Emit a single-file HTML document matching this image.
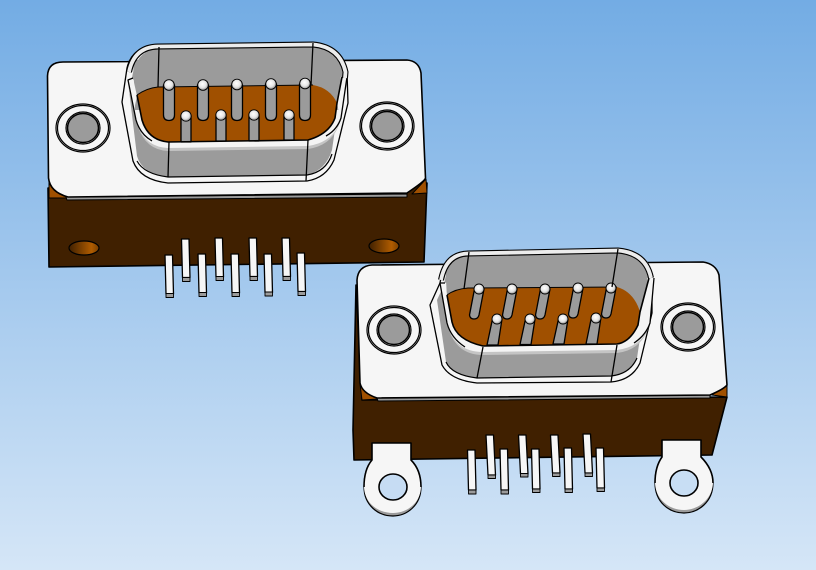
<!DOCTYPE html>
<html><head><meta charset="utf-8"><title>D-sub connectors</title>
<style>html,body{margin:0;padding:0;background:#fff}svg{display:block}</style></head>
<body>
<svg xmlns="http://www.w3.org/2000/svg" width="816" height="570" viewBox="0 0 816 570">
<defs>
<linearGradient id="bg" x1="0" y1="0" x2="0" y2="1"><stop offset="0" stop-color="#73ace4"/><stop offset="1" stop-color="#d5e6f7"/></linearGradient>
<linearGradient id="h" x1="0" y1="0" x2="1" y2="0"><stop offset="0" stop-color="#402000"/><stop offset=".75" stop-color="#b05c00"/><stop offset="1" stop-color="#7a4000"/></linearGradient>
<radialGradient id="b" cx=".45" cy=".4" r=".6"><stop offset="0" stop-color="#fff"/><stop offset=".6" stop-color="#e4e4e4"/><stop offset="1" stop-color="#8f8f8f"/></radialGradient>
</defs>
<rect width="816" height="570" fill="url(#bg)"/>

<!-- CONNECTOR 1 -->
<g stroke="#000" stroke-width="1.600" stroke-linejoin="round">
<path d="M48 188L427 183L424 262L49 267Z" fill="#402000"/>
<path d="M49 176L49 198L67 198Z" fill="#a05000" stroke-width="1"/>
<path d="M412 194L426 179L427 193Z" fill="#a05000" stroke-width="1"/>
<path d="M66 197L407 194L407 197L67 200Z" fill="#9b9b9b" stroke-width="1"/>
<path d="M47.500 76Q48 62 63 62L407 60Q419 61 421 73L425.500 178Q425 181 407 193L68 197Q50 192 48.500 178Z" fill="#f6f6f6"/>
<ellipse cx="84" cy="248" rx="15" ry="7" fill="url(#h)" stroke-width="1.200"/>
<ellipse cx="384" cy="246" rx="15" ry="7" fill="url(#h)" stroke-width="1.200"/>
</g>
<g fill="none" stroke="#000" stroke-width="1.200">
<ellipse cx="83" cy="128" rx="27" ry="24" fill="#f6f6f6"/><ellipse cx="83" cy="128" rx="25.500" ry="22.500"/>
<ellipse cx="83" cy="128" rx="17" ry="16"/><ellipse cx="83" cy="128" rx="15.500" ry="14.500" fill="#9b9b9b" stroke-width="1.500"/>
<ellipse cx="387" cy="126" rx="27" ry="24" fill="#f6f6f6"/><ellipse cx="387" cy="126" rx="25.500" ry="22.500"/>
<ellipse cx="387" cy="126" rx="17" ry="16"/><ellipse cx="387" cy="126" rx="15.500" ry="14.500" fill="#9b9b9b" stroke-width="1.500"/>
</g>
<g stroke="#000" stroke-width="1.300" stroke-linejoin="round">
<path d="M127 68Q132 46 158 45L313 43Q342 46 347 72L348 103L334 160Q326 178 307 181L168 183Q140 180 133 161L122 102Z" fill="#f6f6f6"/>
<path d="M132 78Q136 50 158 49L313 47Q338 50 343 74L332 150Q326 170 307 175L168 177Q142 174 137 156L128 82Z" fill="#9b9b9b" stroke="none"/>
<path d="M137 161Q144 174 168 177L307 175Q326 172 332 154" fill="none" stroke="#000" stroke-width="1.200"/>
<!-- rim fill -->
<path d="M128 80L136 120Q143 150 168 151L308 149Q335 145 341 118L347 77Z" fill="#c4c4c4" stroke="none"/>
<path d="M128 80L136 120Q143 147 168 148L308 146Q335 142 341 118L347 77Z" fill="#f4f4f4" stroke="none"/>
<path d="M133 60L340 60L342 110L135 110Z" fill="#9b9b9b" stroke="none"/>
<path d="M128 78L133 78L137 96L134 110L129 90Z" fill="#f4f4f4" stroke="none"/>
<path d="M347 77L342 77L337 103L340 118L344 100Z" fill="#f4f4f4" stroke="none"/>
<path d="M137 95Q147 88 158 87L313 85Q330 88 337 103L335 118Q329 134 308 140L168 142Q148 140 142 120Z" fill="#a05000" stroke="none"/>
<path d="M137 95Q147 88 158 87L313 85" fill="none" stroke-width="1"/>
<g fill="#9b9b9b">
<path d="M163.500 85h11v30q0 5.500-5.500 5.500t-5.500-5.500z"/><path d="M197.500 85h11v30q0 5.500-5.500 5.500t-5.500-5.500z"/><path d="M231.500 85h11v30q0 5.500-5.500 5.500t-5.500-5.500z"/><path d="M265.500 84h11v31q0 5.500-5.500 5.500t-5.500-5.500z"/><path d="M299.500 84h11v31q0 5.500-5.500 5.500t-5.500-5.500z"/>
<path d="M181 116h10v26h-10z"/><path d="M216 116h10v25h-10z"/><path d="M249 116h10v25h-10z"/><path d="M284 116h10v24h-10z"/>
</g>
<g fill="url(#b)" stroke-width=".9">
<circle cx="169" cy="85" r="5.300"/><circle cx="203" cy="85" r="5.300"/><circle cx="237" cy="84.500" r="5.300"/><circle cx="271" cy="84" r="5.300"/><circle cx="305" cy="83.500" r="5.300"/>
<circle cx="186" cy="116" r="5.200"/><circle cx="221" cy="115" r="5.200"/><circle cx="254" cy="115" r="5.200"/><circle cx="289" cy="115" r="5.200"/>
</g>
<path d="M137 95L142 120Q148 140 168 142L308 140Q329 134 335 118L337 103L342 77" fill="none" stroke-width="1.600"/>
<path d="M133 78L128 80L136 120Q140 134 152 141M347 77L341 118Q337 130 326 136" fill="none"/>
<path d="M129 72Q134 47 158 46.500L313 44.500Q340 47 345.500 72L345 78" fill="none" stroke="#000" stroke-width="6"/>
<path d="M129 72Q134 47 158 46.500L313 44.500Q340 47 345.500 72L345 78" fill="none" stroke="#ececec" stroke-width="3.800"/>
<path d="M159 47L158 87M169 142L168 177M313 43L311 85M308 140L306 181" fill="none"/>
<g fill="#f6f6f6">
<path d="M181.500 239h7.500l1 38.500h-7.500z"/><path d="M215 238h7.500l1 39h-7.500z"/><path d="M249 238h7.500l1 38.500h-7.500z"/><path d="M282 238h7.500l1 38.500h-7.500z"/>
<path d="M165 255h7.500l1 39h-7.500z"/><path d="M198 254h7.500l1 39h-7.500z"/><path d="M231 254h7.500l1 39h-7.500z"/><path d="M264 254h7.500l1 38.500h-7.500z"/><path d="M297 253h7.500l1 38.500h-7.500z"/>
</g>
<g fill="#9b9b9b" stroke-width=".9">
<path d="M182.500 277.500h7.500v4h-7.500z"/><path d="M216 276.500h7.500v4h-7.500z"/><path d="M250 276.500h7.500v4h-7.500z"/><path d="M283 276.500h7.500v4h-7.500z"/>
<path d="M166 293.500h7.500v4h-7.500z"/><path d="M199 292.500h7.500v4h-7.500z"/><path d="M232 292.500h7.500v4h-7.500z"/><path d="M265 292h7.500v4h-7.500z"/><path d="M298 291.500h7.500v4h-7.500z"/>
</g>
</g>

<!-- CONNECTOR 2 -->
<g stroke="#000" stroke-width="1.600" stroke-linejoin="round">
<path d="M356 285L362 400L727 397L712 455L354 460L353 430Z" fill="#402000"/>
<path d="M360 384L362 400L378 399Z" fill="#a05000" stroke-width="1"/>
<path d="M712 395L727 384L727 397Z" fill="#a05000" stroke-width="1"/>
<path d="M377 398L710 395L710 398L378 401Z" fill="#9b9b9b" stroke-width="1"/>
<path d="M357 280Q358 266 372 265L703 262Q716 264 719 275L727 385Q724 389 710 395L377 398Q362 393 360 383Z" fill="#f6f6f6"/>
<path d="M372 443H411V460C418 467 421 477 421 487C421 505 407 516 393 516C378 516 364 505 364 487C364 477 366 467 372 460Z" fill="#9b9b9b" stroke-width="1.200"/>
<path d="M372 443H411V460C418 467 421 477 421 486C421 503 407 513 393 513C378 513 364 503 364 486C364 477 366 467 372 460Z" fill="#f6f6f6" stroke="none"/>
<path d="M364 487C364 477 366 467 372 460V443H411V460C418 467 421 477 421 487" fill="none"/>
<path d="M662 440H701V457C708 464 713 473 713 483C713 502 698 513 684 513C669 513 655 502 655 483C655 473 657 464 662 457Z" fill="#9b9b9b" stroke-width="1.200"/>
<path d="M662 440H701V457C708 464 713 473 713 482C713 499 698 510 684 510C669 510 655 499 655 482C655 473 657 464 662 457Z" fill="#f6f6f6" stroke="none"/>
<path d="M655 483C655 473 657 464 662 457V440H701V457C708 464 713 473 713 483" fill="none"/>
<ellipse cx="393" cy="487" rx="14" ry="13" fill="#c6dcf3"/>
<ellipse cx="684" cy="483" rx="14" ry="13" fill="#c8def4"/>
</g>
<g fill="none" stroke="#000" stroke-width="1.200">
<ellipse cx="394" cy="330" rx="27" ry="24" fill="#f6f6f6"/><ellipse cx="394" cy="330" rx="25.500" ry="22.500"/>
<ellipse cx="394" cy="330" rx="17" ry="16"/><ellipse cx="394" cy="330" rx="15.500" ry="14.500" fill="#9b9b9b" stroke-width="1.500"/>
<ellipse cx="688" cy="327" rx="27" ry="24" fill="#f6f6f6"/><ellipse cx="688" cy="327" rx="25.500" ry="22.500"/>
<ellipse cx="688" cy="327" rx="17" ry="16"/><ellipse cx="688" cy="327" rx="15.500" ry="14.500" fill="#9b9b9b" stroke-width="1.500"/>
</g>
<g stroke="#000" stroke-width="1.300" stroke-linejoin="round">
<path d="M440 283Q444 254 468 252L618 249Q646 252 652 275L652 313L640 363Q632 380 611 382L477 383Q450 380 442 365L430 305Z" fill="#f6f6f6"/>
<path d="M444 285Q448 256 468 255L618 252Q644 255 649 278L637 358Q630 374 611 376L477 378Q452 375 446 362L437 300Z" fill="#9b9b9b" stroke="none"/>
<path d="M446 362Q452 375 477 378L611 376Q630 374 637 358" fill="none" stroke-width="1.200"/>
<path d="M440 283L447 323Q454 355 483 355L617 353Q643 350 650 323L654 278Z" fill="#c4c4c4" stroke="none"/>
<path d="M440 283L447 323Q454 352 483 352L617 350Q643 347 650 323L654 278Z" fill="#f4f4f4" stroke="none"/>
<path d="M445 262L648 262L646 314L448 316Z" fill="#9b9b9b" stroke="none"/>
<path d="M440 283L445 283L447 295L452 322L447 323Z" fill="#f4f4f4" stroke="none"/>
<path d="M654 278L649 278L640 312L638 325L650 323Z" fill="#f4f4f4" stroke="none"/>
<path d="M447 295Q455 289 468 288L617 287Q634 292 640 312L638 325Q630 342 617 344L483 346Q456 340 452 322Z" fill="#a05000" stroke="none"/>
<path d="M447 295Q455 289 468 288L617 287" fill="none" stroke-width="1"/>
<g fill="#9b9b9b">
<path d="M474.500 289h9.500l-5 26q-1 4-5 4t-4.500-4z"/><path d="M507.500 289h9.500l-5 26q-1 4-5 4t-4.500-4z"/><path d="M540.500 289h9.500l-5 26q-1 4-5 4t-4.500-4z"/><path d="M573.500 288h9.500l-5 26q-1 4-5 4t-4.500-4z"/><path d="M606.500 288h9.500l-5 26q-1 4-5 4t-4.500-4z"/>
<path d="M492.500 319h9.500l-4 26h-11z"/><path d="M525.500 319h9.500l-4 25.500h-11z"/><path d="M558.500 319h9.500l-4 25h-11z"/><path d="M591.500 317h9.500l-4 27h-11z"/>
</g>
<g fill="url(#b)" stroke-width=".9">
<circle cx="479" cy="289" r="5"/><circle cx="512" cy="289" r="5"/><circle cx="545" cy="289" r="5"/><circle cx="578" cy="288" r="5"/><circle cx="611" cy="288" r="5"/>
<circle cx="497" cy="319" r="5"/><circle cx="530" cy="319" r="5"/><circle cx="563" cy="319" r="5"/><circle cx="596" cy="318" r="5"/>
</g>
<path d="M447 295L452 322Q456 340 483 346L617 344Q630 342 638 325L640 312L649 278" fill="none" stroke-width="1.600"/>
<path d="M445 283L440 283L447 323Q451 338 465 347M654 278L650 323Q646 335 634 343" fill="none"/>
<path d="M441 280Q446 254 468 253.500L618 250.500Q646 253 651 278" fill="none" stroke="#000" stroke-width="6"/>
<path d="M441 280Q446 254 468 253.500L618 250.500Q646 253 651 278" fill="none" stroke="#ececec" stroke-width="3.800"/>
<path d="M469 252L464 289M483 347L477 378M618 249L612 287M617 345L611 382" fill="none"/>
<g fill="#f6f6f6">
<path d="M486 435h7.500l2 40h-7.500z"/><path d="M518.500 435h7.500l2 39h-7.500z"/><path d="M550.500 435h7.500l2 38h-7.500z"/><path d="M583 434h7.500l2 39h-7.500z"/>
<path d="M467.500 450h7.500l1 40h-7.500z"/><path d="M500 449h7.500l1 41h-7.500z"/><path d="M531.500 449h7.500l1 40h-7.500z"/><path d="M564 448h7.500l1 41h-7.500z"/><path d="M596 448h7.500l1 40h-7.500z"/>
</g>
<g fill="#9b9b9b" stroke-width=".9">
<path d="M488 475h7.500v3.500h-7.500z"/><path d="M520.500 473.500h7.500v3.500h-7.500z"/><path d="M552.500 473h7.500v3.500h-7.500z"/><path d="M585 473h7.500v3.500h-7.500z"/>
<path d="M468.500 490h7.500v4h-7.500z"/><path d="M501 490h7.500v4h-7.500z"/><path d="M532.500 489h7.500v3.500h-7.500z"/><path d="M565 489h7.500v3.500h-7.500z"/><path d="M597 488h7.500v3.500h-7.500z"/>
</g>
</g>
</svg>
</body></html>
